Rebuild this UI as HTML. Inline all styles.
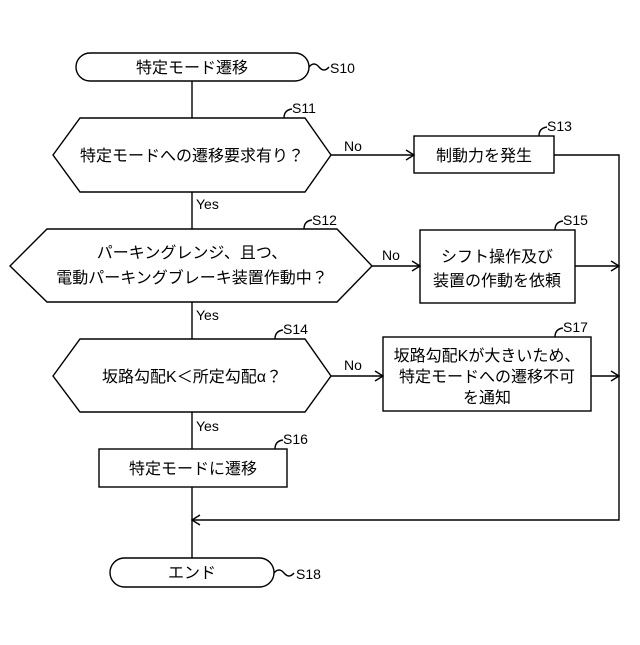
<!DOCTYPE html>
<html><head><meta charset="utf-8"><style>
html,body{margin:0;padding:0;background:#fff;}
svg text{font-family:"Liberation Sans","Noto Sans CJK JP",sans-serif;fill:#000;}
</style></head><body>
<svg width="640" height="640" viewBox="0 0 640 640" xmlns="http://www.w3.org/2000/svg">
<g fill="none" stroke="#000" stroke-width="1.4">
<rect x="76" y="53" width="233" height="28" rx="14"/>
<path d="M309 67 q5 -6 10 0 t10 0"/>
<line x1="192" y1="81" x2="192" y2="118"/>
<polygon points="53,155 80,118 305,118 331,155 305,192 80,192"/>
<path d="M284 118 q0 -8 8 -9"/>
<line x1="331" y1="155" x2="414" y2="155"/>
<path d="M406 150 L414 155 L406 160"/>
<rect x="414" y="136" width="140" height="37"/>
<path d="M539 136 q0 -8 8 -9"/>
<polyline points="554,155 619,155 619,520 192,520"/>
<path d="M200 515 L192 520 L200 525"/>
<line x1="192" y1="192" x2="192" y2="229"/>
<polygon points="10,266 47,229 337,229 372,266 337,302 47,302"/>
<path d="M304 229 q0 -8 8 -9"/>
<line x1="372" y1="266" x2="420" y2="266"/>
<path d="M412 261 L420 266 L412 271"/>
<rect x="420" y="230" width="155" height="73"/>
<path d="M555 230 q0 -8 8 -9"/>
<line x1="575" y1="266" x2="619" y2="266"/>
<path d="M611 261 L619 266 L611 271"/>
<line x1="192" y1="302" x2="192" y2="339"/>
<polygon points="53,376 80,339 305,339 331,376 305,412 80,412"/>
<path d="M275 339 q0 -8 8 -9"/>
<line x1="331" y1="376" x2="383" y2="376"/>
<path d="M375 371 L383 376 L375 381"/>
<rect x="383" y="337" width="208" height="74"/>
<path d="M555 337 q0 -8 8 -9"/>
<line x1="591" y1="376" x2="619" y2="376"/>
<path d="M611 371 L619 376 L611 381"/>
<line x1="192" y1="412" x2="192" y2="449"/>
<rect x="99" y="449" width="188" height="38"/>
<path d="M275 449 q0 -8 8 -9"/>
<line x1="192" y1="487" x2="192" y2="558"/>
<rect x="110" y="558" width="164" height="29" rx="14.5"/>
<path d="M274 573 q5 -6 10 0 t10 0"/>
</g>
<g font-size="16">
<text x="192" y="73" text-anchor="middle">特定モード遷移</text>
<text x="192" y="161" text-anchor="middle">特定モードへの遷移要求有り？</text>
<text x="484" y="161" text-anchor="middle">制動力を発生</text>
<text x="192" y="258" text-anchor="middle">パーキングレンジ、且つ、</text>
<text x="192" y="283" text-anchor="middle">電動パーキングブレーキ装置作動中？</text>
<text x="497" y="262" text-anchor="middle">シフト操作及び</text>
<text x="497" y="286" text-anchor="middle">装置の作動を依頼</text>
<text x="192" y="382" text-anchor="middle">坂路勾配K＜所定勾配α？</text>
<text x="487" y="361" text-anchor="middle">坂路勾配Kが大きいため、</text>
<text x="487" y="382" text-anchor="middle">特定モードへの遷移不可</text>
<text x="487" y="403" text-anchor="middle">を通知</text>
<text x="193" y="474" text-anchor="middle">特定モードに遷移</text>
<text x="192" y="578" text-anchor="middle">エンド</text>
</g>
<g font-size="14">
<text x="330" y="73">S10</text>
<text x="292" y="113">S11</text>
<text x="547" y="131">S13</text>
<text x="312" y="225">S12</text>
<text x="563" y="225">S15</text>
<text x="283" y="334">S14</text>
<text x="563" y="332">S17</text>
<text x="283" y="444">S16</text>
<text x="296" y="579">S18</text>
<text x="344" y="151">No</text>
<text x="382" y="260">No</text>
<text x="344" y="370">No</text>
<text x="196" y="209">Yes</text>
<text x="196" y="320">Yes</text>
<text x="196" y="431">Yes</text>
</g>
</svg>
</body></html>
